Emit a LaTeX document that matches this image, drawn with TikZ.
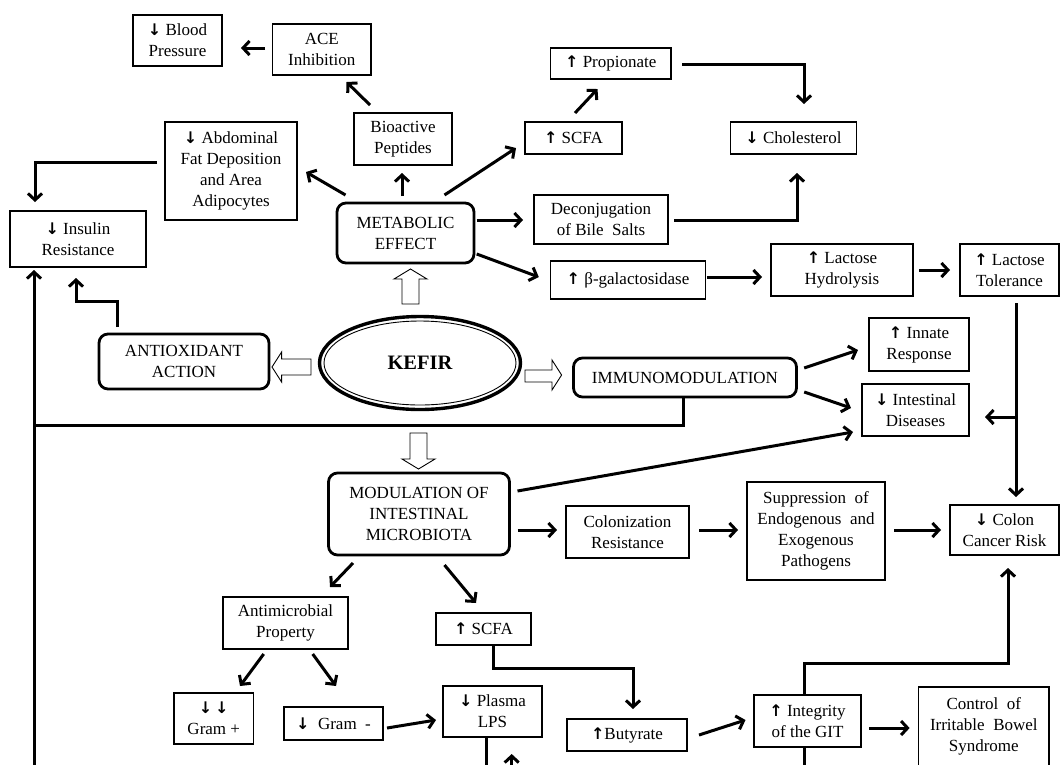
\documentclass[tikz,border=0pt]{standalone}
\usepackage{fontspec}
\setmainfont{Liberation Serif}
\newfontfamily\arrfont{DejaVu Sans}
\usetikzlibrary{arrows.meta,shapes.geometric}
\newcommand{\boxfont}{\fontsize{17}{21}\selectfont}
\newcommand{\upa}{{\arrfont\bfseries\fontsize{16}{21}\selectfont ↑}}
\newcommand{\dna}{{\arrfont\bfseries\fontsize{16}{21}\selectfont ↓}}
\begin{document}
\begin{tikzpicture}[x=1pt,y=-1pt,
  box/.style={draw, line width=1.1pt, inner sep=0pt, outer sep=0pt, align=center, font=\boxfont},
  rbox/.style={draw, line width=2.8pt, rounded corners=9pt, inner sep=0pt, outer sep=0pt, align=center, font=\boxfont},
  arr/.style={line width=3pt, -{Straight Barb[length=6.5pt,width=14pt]}},
  ln/.style={line width=3pt},
  hol/.style={draw, line width=0.9pt, fill=white, line join=miter},
]
\fill[white] (0,0) rectangle (1062,764);
\useasboundingbox (0,0) rectangle (1062,764);

% ---------- nodes ----------
\node[box, minimum width=89pt, minimum height=51pt] (bp) at (177.5,40.5) {\dna\ Blood\\Pressure};
\node[box, minimum width=98.5pt, minimum height=51pt] (ace) at (321.75,49.5) {ACE\\Inhibition};
\node[box, minimum width=98pt, minimum height=52pt] (bio) at (403,139) {Bioactive\\Peptides};
\node[box, minimum width=132pt, minimum height=98pt] (abd) at (231,171) {\dna\ Abdominal\\Fat Deposition\\and Area\\Adipocytes};
\node[box, minimum width=136pt, minimum height=56pt] (ins) at (78,239) {\dna\ Insulin\\Resistance};
\node[rbox, minimum width=137pt, minimum height=60pt] (met) at (405.5,233) {METABOLIC\\EFFECT};
\node[box, minimum width=120.5pt, minimum height=31pt] (prop) at (610.75,63.5) {\upa\ Propionate};
\node[box, minimum width=97pt, minimum height=32pt] (scfa1) at (573.5,138) {\upa\ SCFA};
\node[box, minimum width=126pt, minimum height=32pt] (chol) at (793.5,138) {\dna\ Cholesterol};
\node[box, minimum width=134pt, minimum height=49pt] (dec) at (601,219.5) {Deconjugation\\of Bile~ Salts};
\node[box, minimum width=155.5pt, minimum height=38pt] (bgal) at (628,280) {\upa\ β-galactosidase};
\node[box, minimum width=142pt, minimum height=52pt] (lh) at (842,270) {\upa\ Lactose\\Hydrolysis};
\node[box, minimum width=99pt, minimum height=52pt] (lt) at (1009.5,270) {\upa\ Lactose\\Tolerance};
\node[rbox, minimum width=170pt, minimum height=55pt] (anti) at (184,361.5) {ANTIOXIDANT\\ACTION};
\node[ellipse, draw, line width=3.4pt, inner sep=0pt, outer sep=0pt, minimum width=201pt, minimum height=93pt,
      font=\fontsize{20.5}{24}\selectfont\bfseries] (kefir) at (420,363) {KEFIR};
\draw[line width=0.9pt] (kefir.center) ellipse [x radius=96pt, y radius=42pt];
\node[rbox, minimum width=223pt, minimum height=39pt] (imm) at (685,377.5) {IMMUNOMODULATION};
\node[box, minimum width=100pt, minimum height=53pt] (inn) at (919,344.5) {\upa\ Innate\\Response};
\node[box, minimum width=107pt, minimum height=52pt] (intd) at (915.5,410) {\dna\ Intestinal\\Diseases};
\node[rbox, minimum width=181pt, minimum height=82pt] (mod) at (419,514) {MODULATION OF\\INTESTINAL\\MICROBIOTA};
\node[box, minimum width=123pt, minimum height=52pt] (col) at (627.5,532) {Colonization\\Resistance};
\node[box, minimum width=138pt, minimum height=98pt] (sup) at (816,531) {Suppression~ of\\Endogenous~ and\\Exogenous\\Pathogens};
\node[box, minimum width=109pt, minimum height=50pt] (ccr) at (1004.5,530) {\dna\ Colon\\Cancer Risk};
\node[box, minimum width=125pt, minimum height=52pt] (amp) at (285.5,623) {Antimicrobial\\Property};
\node[box, minimum width=95pt, minimum height=32pt] (scfa2) at (483.5,629) {\upa\ SCFA};
\node[box, minimum width=79.5pt, minimum height=51pt] (gp) at (213.75,718.5) {\dna\,\dna\\Gram +};
\node[box, minimum width=99pt, minimum height=33pt] (gm) at (333.5,723.5) {\dna~ Gram~ -};
\node[box, minimum width=99pt, minimum height=51pt] (pl) at (492.5,711.5) {\dna\ Plasma\\LPS};
\node[box, minimum width=120pt, minimum height=32pt] (but) at (627,735) {\upa Butyrate};
\node[box, minimum width=107pt, minimum height=52pt] (git) at (807.5,721) {\upa\ Integrity\\of the GIT};
\node[box, minimum width=130.4pt, minimum height=79pt] (ibs) at (983.8,726.5) {Control~ of\\Irritable~ Bowel\\Syndrome};

% free ends below the picture edge
\coordinate (bl) at (34,775);
\coordinate (pb) at (511.7,775);

% ---------- hollow block arrows from KEFIR ----------
\draw[hol] (402,304) -- (402,279) -- (394,279) -- (410.5,269) -- (427,279) -- (419,279) -- (419,304) -- cycle;
\draw[hol] (311,359) -- (281.6,359) -- (281.6,352) -- (272,367) -- (281.6,382) -- (281.6,375) -- (311,375) -- cycle;
\draw[hol] (525,370) -- (552,370) -- (552,360) -- (561.6,375) -- (552,390) -- (552,382) -- (525,382) -- cycle;
\draw[hol] (410,433) -- (427,433) -- (427,459) -- (435,459) -- (418.5,469) -- (402,459) -- (410,459) -- cycle;

% ---------- connectors ----------
\draw[arr] ([shift={(-7.5,-1.5)}]ace.west) -- ([shift={(19,7.5)}]bp.east);
\draw[arr] ([shift={(-33,-8)}]bio.north) -- ([shift={(24.75,7)}]ace.south);
\draw[arr] ([shift={(8.5,-8)}]met.north west) -- ([shift={(9,1)}]abd.east);
\draw[arr] ([shift={(-3.5,-7)}]met.north) -- ([shift={(-1,8)}]bio.south);
\draw[arr] ([shift={(-29.5,-8)}]met.north east) -- ([shift={(-9,10)}]scfa1.west);
\draw[arr] ([shift={(1.5,-9)}]scfa1.north) -- ([shift={(-13.25,10)}]prop.south);
\draw[arr] ([shift={(11,0.5)}]prop.east) -| ([shift={(10.5,-18)}]chol.north);
\draw[arr] ([shift={(6,0.5)}]dec.east) -| ([shift={(3.5,19)}]chol.south);
\draw[arr] ([shift={(2.7,-13)}]met.east) -- ([shift={(-11,0.5)}]dec.west);
\draw[arr] ([shift={(2.7,21)}]met.east) -- ([shift={(-11.5,-3)}]bgal.west);
\draw[arr] ([shift={(1,-3)}]bgal.east) -- ([shift={(-9,7)}]lh.west);
\draw[arr] ([shift={(6,0)}]lh.east) -- ([shift={(-10,0)}]lt.west);
\draw[arr] ([shift={(-8,-9)}]abd.west) -| ([shift={(-43,-9)}]ins.north);
\draw[arr] ([shift={(-67,-7)}]anti.north) -- ++(0,-26) -| ([shift={(-2,11)}]ins.south);
\draw[arr] (bl) -- ([shift={(-44,3)}]ins.south);
\draw[ln] (imm.south) ++(-2,0) |- (bl |- 0,425);
\draw[arr] ([shift={(7.7,-9.5)}]imm.east) -- ([shift={(-11,5.5)}]inn.west);
\draw[arr] ([shift={(7.7,14.5)}]imm.east) -- ([shift={(-11,-2)}]intd.west);
\draw[arr] ([shift={(8,-23)}]mod.east) -- ([shift={(-9,22)}]intd.west);
\draw[arr] ([shift={(6.5,7)}]lt.south) -- ([shift={(11.5,-8)}]ccr.north);
\path ([shift={(6.5,121)}]lt.south) coordinate (jn);
\draw[arr] (jn) -- ([shift={(16,7)}]intd.east);
\draw[arr] ([shift={(8,16)}]mod.east) -- ([shift={(-9,-2)}]col.west);
\draw[arr] ([shift={(10,-2)}]col.east) -- ([shift={(-9,-1)}]sup.west);
\draw[arr] ([shift={(9,-1)}]sup.east) -- ([shift={(-9,0)}]ccr.west);
\draw[arr] ([shift={(-66,8)}]mod.south) -- ([shift={(44.5,-10)}]amp.north);
\draw[arr] ([shift={(25.5,10)}]mod.south) -- ([shift={(-7.5,-10)}]scfa2.north);
\draw[arr] ([shift={(-21.8,5)}]amp.south) -- ([shift={(26.25,-7)}]gp.north);
\draw[arr] ([shift={(27.2,5)}]amp.south) -- ([shift={(2.5,-21)}]gm.north);
\draw[arr] ([shift={(4,4.5)}]gm.east) -- ([shift={(-7,8.5)}]pl.west);
\draw[arr] ([shift={(9.5,0)}]scfa2.south) -- ++(0,23) -| ([shift={(6,-10)}]but.north);
\draw[arr] ([shift={(12,0)}]but.east) -- ([shift={(-8.5,-1)}]git.west);
\draw[arr] ([shift={(8,7)}]git.east) -- ([shift={(-9,1.5)}]ibs.west);
\draw[arr] ([shift={(-3.5,0)}]git.north) -- ++(0,-32) -| ([shift={(3.5,13)}]ccr.south);
\draw[ln] ([shift={(-6.5,0)}]pl.south) -- ++(0,40);
\draw[arr] (pb) -- ([shift={(19.2,17)}]pl.south);
\draw[ln] ([shift={(-3.5,0)}]git.south) -- ++(0,30);
\end{tikzpicture}
\end{document}
